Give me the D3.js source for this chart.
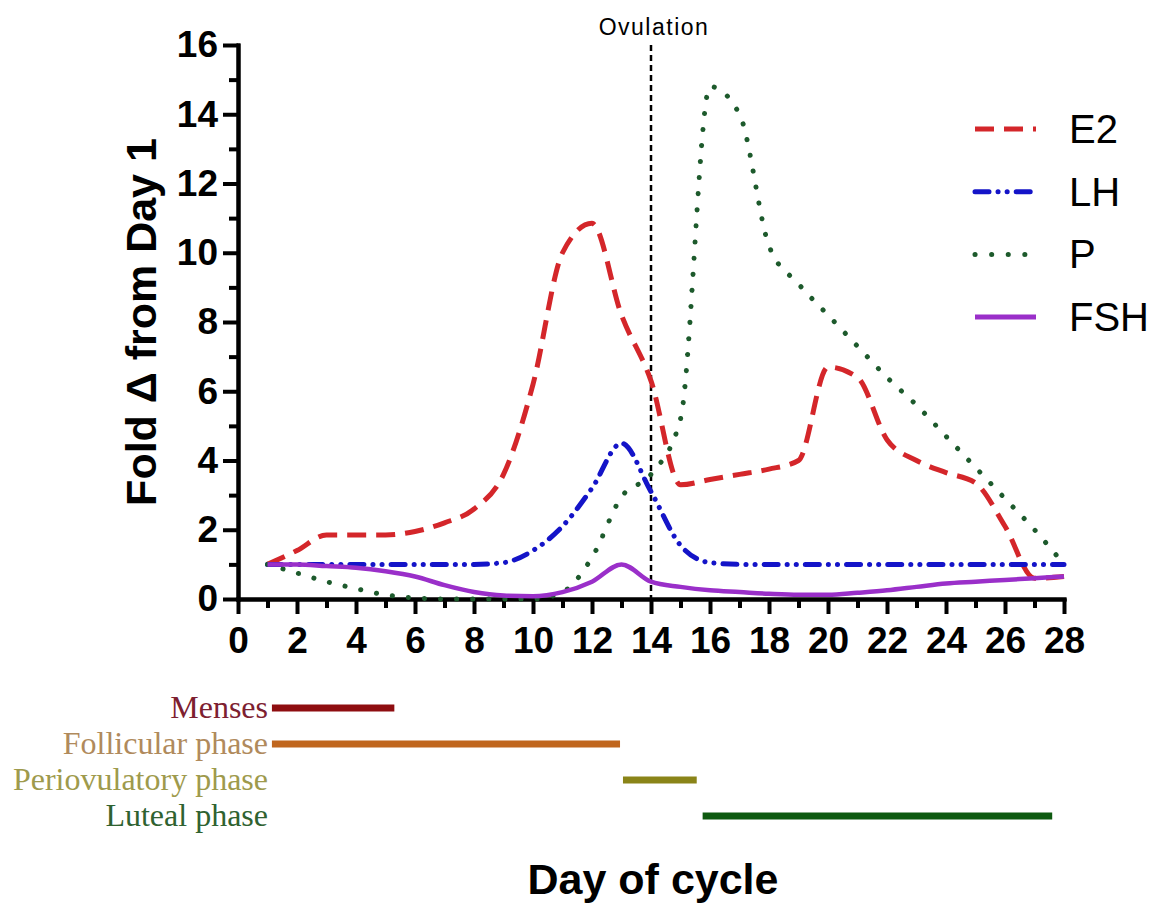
<!DOCTYPE html>
<html>
<head>
<meta charset="utf-8">
<script src="https://cdn.jsdelivr.net/npm/d3@7"></script>
<style>
  body { margin: 0; background: #fff; }
  svg { display: block; }
</style>
</head>
<body>
<div id="root"></div>
<script>
const days = d3.range(1, 29);
const e2  = [1.0, 1.4, 1.85, 1.85, 1.85, 1.95, 2.2, 2.6, 3.6, 6.2, 10.0, 10.85, 8.2, 6.3, 3.3, 3.45, 3.6, 3.75, 4.0, 6.7, 6.4, 4.6, 4.0, 3.65, 3.35, 2.1, 0.6, 0.65];
const lh  = [1.0, 1.0, 1.0, 1.0, 1.0, 1.0, 1.0, 1.0, 1.05, 1.4, 2.1, 3.2, 4.5, 3.1, 1.55, 1.05, 1.0, 1.0, 1.0, 1.0, 1.0, 1.0, 1.0, 1.0, 1.0, 1.0, 1.0, 1.0];
const prog = [1.0, 0.75, 0.5, 0.3, 0.12, 0.03, 0, 0, 0, 0, 0.2, 1.2, 2.95, 3.6, 5.2, 14.8, 14.0, 10.2, 9.1, 8.2, 7.3, 6.4, 5.6, 4.7, 3.8, 2.9, 2.0, 1.0];
const fsh = [1.0, 1.0, 0.95, 0.9, 0.8, 0.65, 0.4, 0.2, 0.1, 0.08, 0.2, 0.5, 1.0, 0.5, 0.35, 0.25, 0.2, 0.15, 0.12, 0.12, 0.18, 0.25, 0.35, 0.45, 0.5, 0.55, 0.6, 0.65];

const seriesNames = ["E2", "LH", "P", "FSH"];
const seriesColors = ["#d4262a", "#1414c8", "#1d5a2c", "#9a2fc9"];
const seriesDash = ["19 10", "14 9 0.1 9 0.1 9", "0.1 16", null];

const phaseNames = ["Menses", "Follicular phase", "Periovulatory phase", "Luteal phase"];
const phaseStart = [1.15, 1.15, 13.05, 15.75];
const phaseEnd = [5.3, 12.95, 15.55, 27.6];
const phaseBarColors = ["#8e0d10", "#c0661e", "#8a8418", "#0e5a10"];
const phaseTextColors = ["#7d2030", "#b08a5c", "#9e9a4c", "#2f6230"];

const ovulationDay = 14;

const svg = d3.select("#root")
  .append("svg")
  .attr("width", 1163)
  .attr("height", 904);

const x = d3.scaleLinear().domain([0, 28]).range([238, 1064]);
const y = d3.scaleLinear().domain([0, 16]).range([599, 45]);

const axisFont = "'Liberation Sans', Arial, sans-serif";

// minor ticks first, major ticks with labels on top
svg.append("g")
    .attr("transform", "translate(0,599)")
    .call(d3.axisBottom(x).tickValues(d3.range(1, 28, 2)).tickSize(9).tickFormat("").tickSizeOuter(0));
svg.append("g")
    .attr("class", "xaxis")
    .attr("transform", "translate(0,599)")
    .call(d3.axisBottom(x).tickValues(d3.range(0, 29, 2)).tickSize(15).tickPadding(13).tickSizeOuter(0));

svg.append("g")
    .attr("transform", "translate(238,0)")
    .call(d3.axisLeft(y).tickValues(d3.range(1, 16, 2)).tickSize(9).tickFormat("").tickSizeOuter(0));
svg.append("g")
    .attr("class", "yaxis")
    .attr("transform", "translate(238,0)")
    .call(d3.axisLeft(y).tickValues(d3.range(0, 17, 2)).tickSize(15).tickPadding(5).tickSizeOuter(0));

svg.selectAll(".domain, .tick line")
    .attr("stroke", "#000")
    .attr("stroke-width", 4);
svg.selectAll(".domain").attr("stroke-linecap", "square");
svg.selectAll(".tick text")
    .attr("fill", "#000")
    .style("font-family", axisFont)
    .style("font-weight", "bold")
    .style("font-size", "37px");

// ovulation marker
svg.append("line")
    .attr("x1", x(ovulationDay)).attr("x2", x(ovulationDay))
    .attr("y1", y(16)).attr("y2", y(0))
    .attr("stroke", "#000")
    .attr("stroke-width", 2.5)
    .attr("stroke-dasharray", "6 4");
svg.append("text")
    .attr("x", x(ovulationDay) + 3)
    .attr("y", 35)
    .attr("text-anchor", "middle")
    .style("font-family", axisFont)
    .style("font-size", "23px")
    .style("letter-spacing", "1.5px")
    .text("Ovulation");

// series lines
const allSeries = [e2, lh, prog, fsh];
const line = d3.line()
    .x(function(d, i) { return x(days[i]); })
    .y(function(d) { return y(d); })
    .curve(d3.curveMonotoneX);

allSeries.forEach(function(vals, k) {
  svg.append("path")
      .datum(vals)
      .attr("fill", "none")
      .attr("stroke", seriesColors[k])
      .attr("stroke-width", k === 3 ? 4.5 : 5)
      .attr("stroke-linecap", k === 2 || k === 1 ? "round" : "butt")
      .attr("stroke-dasharray", seriesDash[k])
      .attr("d", line);
});

// legend
const legend = svg.append("g");
seriesNames.forEach(function(name, k) {
  const ly = 129 + k * 62.7;
  legend.append("line")
      .attr("x1", 975).attr("x2", 1036)
      .attr("y1", ly).attr("y2", ly)
      .attr("stroke", seriesColors[k])
      .attr("stroke-width", 5)
      .attr("stroke-linecap", k === 2 || k === 1 ? "round" : "butt")
      .attr("stroke-dasharray", k === 2 ? "0.1 16.5" : seriesDash[k]);
  legend.append("text")
      .attr("x", 1069)
      .attr("y", ly + 14)
      .style("font-family", axisFont)
      .style("font-size", "40px")
      .text(name);
});

// axis titles
svg.append("text")
    .attr("transform", "translate(156,322) rotate(-90)")
    .attr("text-anchor", "middle")
    .style("font-family", axisFont)
    .style("font-weight", "bold")
    .style("font-size", "43px")
    .text("Fold \u0394 from Day 1");

svg.append("text")
    .attr("x", 653)
    .attr("y", 894)
    .attr("text-anchor", "middle")
    .style("font-family", axisFont)
    .style("font-weight", "bold")
    .style("font-size", "43px")
    .text("Day of cycle");

// cycle phases
phaseNames.forEach(function(name, k) {
  const py = 708 + k * 36;
  svg.append("line")
      .attr("x1", x(phaseStart[k])).attr("x2", x(phaseEnd[k]))
      .attr("y1", py).attr("y2", py)
      .attr("stroke", phaseBarColors[k])
      .attr("stroke-width", 7);
  svg.append("text")
      .attr("x", 268)
      .attr("y", py + 10)
      .attr("text-anchor", "end")
      .attr("fill", phaseTextColors[k])
      .style("font-family", "'Liberation Serif', 'Times New Roman', serif")
      .style("font-size", "32px")
      .text(name);
});
</script>
</body>
</html>
